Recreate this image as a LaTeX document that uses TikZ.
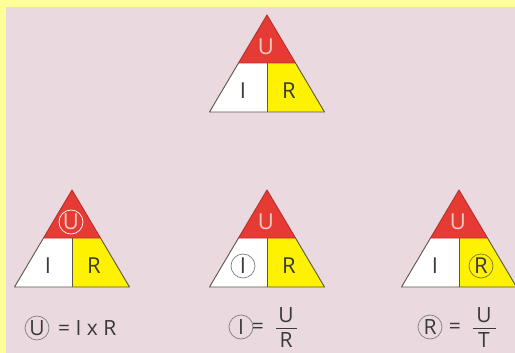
\documentclass[tikz,border=0pt]{standalone}
\usepackage{fontspec}
\setmainfont{Open Sans}
\usepackage{tikz}
\usetikzlibrary{calc}
\usepackage{xcolor}
\definecolor{bgyellow}{HTML}{FFFF99}
\definecolor{bgpink}{HTML}{EAD9DF}
\definecolor{trired}{HTML}{E63B35}
\definecolor{triyellow}{HTML}{FFF200}
\definecolor{uletter}{HTML}{F6C9C4}
\definecolor{inkgrey}{HTML}{3A3A3A}
\definecolor{edgegrey}{HTML}{5A5648}
\definecolor{ringolive}{HTML}{7A7530}

\begin{document}
\begin{tikzpicture}[x=1pt, y=-1pt,
    edge/.style={draw=edgegrey, line width=0.9pt, line join=round},
    redpart/.style={fill=trired, draw=trired!80!black, line width=0.9pt, line join=round},
    letter/.style={font=\fontsize{22}{24}\selectfont, text=inkgrey, inner sep=0pt},
    uletr/.style={letter, text=uletter},
    ring/.style={draw=#1, circle, line width=0.7pt, minimum size=24pt, inner sep=0pt},
    formula/.style={font=\fontsize{21}{23}\selectfont, text=inkgrey, inner sep=0pt}]
    % Background
    \useasboundingbox (0,0) rectangle (515,353);
    \fill[bgyellow] (0,0) rectangle (515,353);
    \fill[bgpink] (6,7) rectangle (515,353);

    % Triangles
    \foreach \cx/\ty/\tn in {267/15/top, 72/190/left, 267/190/mid, 459/190/right} {
        \fill[white] (\cx-28.5,\ty+48) -- (\cx,\ty+48) -- (\cx,\ty+97) -- (\cx-57.5,\ty+97) -- cycle;
        \fill[triyellow] (\cx,\ty+48) -- (\cx+28.5,\ty+48) -- (\cx+57.5,\ty+97) -- (\cx,\ty+97) -- cycle;
        \draw[edge] (\cx-28.5,\ty+48) -- (\cx-57.5,\ty+97) -- (\cx+57.5,\ty+97) -- (\cx+28.5,\ty+48);
        \draw[edge] (\cx,\ty+48) -- (\cx,\ty+97);
        \draw[redpart] (\cx,\ty) -- (\cx+28.5,\ty+48) -- (\cx-28.5,\ty+48) -- cycle;
        \node[uletr] (U-\tn) at (\cx-1,\ty+32) {U};
        \node[letter] (I-\tn) at (\cx-24,\ty+76) {I};
        \node[letter] (R-\tn) at (\cx+22,\ty+76) {R};
    }

    % Rings in the triangles
    \node[ring=white] (ringU) at (U-left) {};
    \node[ring=gray] (ringI) at (I-mid) {};
    \node[ring=ringolive] (ringR) at (R-right) {};

    % Formulas
    \node[formula, ring=gray] (fU) at (37,328) {U};
    \node[formula, anchor=west] (fUrest) at (58,328) {= I x R};

    \node[formula, ring=gray] (fI) at (241,327) {I};
    \node[formula] (fIeq) at (258,328) {=};
    \node[formula] (fInum) at (286,315) {U};
    \node[formula] (fIden) at (286,340) {R};
    \draw[inkgrey, line width=0.9pt] (276,328) -- (297,328);

    \node[formula, ring=gray] (fR) at (430,327) {R};
    \node[formula] (fReq) at (455,328) {=};
    \node[formula] (fRnum) at (484,315) {U};
    \node[formula] (fRden) at (484,340) {T};
    \draw[inkgrey, line width=0.9pt] (473,328) -- (496,328);
\end{tikzpicture}
\end{document}
